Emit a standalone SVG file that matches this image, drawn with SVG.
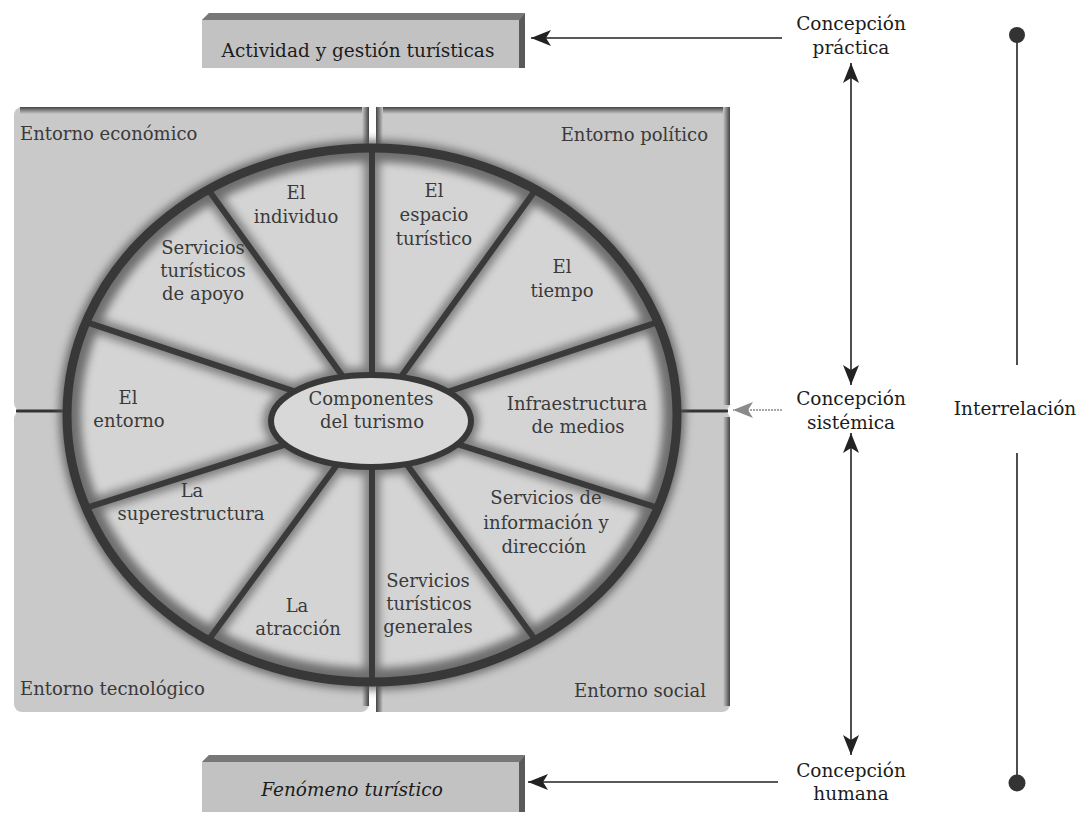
<svg xmlns="http://www.w3.org/2000/svg" width="1080" height="816" viewBox="0 0 1080 816">
<defs>
<style>
.lbl{font-family:"DejaVu Serif","Liberation Serif",serif;font-size:18.5px;fill:#1c1c1c;text-anchor:middle}
.sec{font-family:"DejaVu Serif","Liberation Serif",serif;font-size:18px;fill:#3a3a3a;text-anchor:middle}
.env{font-family:"DejaVu Serif","Liberation Serif",serif;font-size:18px;fill:#3a3a3a}
.panel{fill:#c9c9c9}
.boxface{fill:#c2c2c2}
.boxtop{fill:#777}
.boxside{fill:#5a5a5a}
.spk{stroke:#3a3a3a;stroke-width:6;stroke-linecap:round;fill:none}
.spks{stroke:#6a6a6a;stroke-width:16;fill:none}
.con{stroke:#222;stroke-width:1.6;fill:none}
</style>
<linearGradient id="gTop" x1="0" y1="0" x2="0" y2="1"><stop offset="0" stop-color="#444"/><stop offset="1" stop-color="#c9c9c9"/></linearGradient>
<linearGradient id="gRight" x1="0" y1="0" x2="1" y2="0"><stop offset="0" stop-color="#c9c9c9"/><stop offset="1" stop-color="#444"/></linearGradient>
<linearGradient id="gLeft" x1="0" y1="0" x2="1" y2="0"><stop offset="0" stop-color="#444"/><stop offset="1" stop-color="#c9c9c9"/></linearGradient>
<filter id="blur" x="-20%" y="-20%" width="140%" height="140%"><feGaussianBlur stdDeviation="4"/></filter>
<marker id="ah" viewBox="0 0 20 16" refX="20" refY="8" markerWidth="20" markerHeight="16" markerUnits="userSpaceOnUse" orient="auto-start-reverse"><path d="M20,8 L0,0 L5,8 L0,16 Z" fill="#222"/></marker>
<marker id="ahg" viewBox="0 0 20 16" refX="20" refY="8" markerWidth="20" markerHeight="16" markerUnits="userSpaceOnUse" orient="auto-start-reverse"><path d="M20,8 L0,0 L5,8 L0,16 Z" fill="#8a8a8a"/></marker>
</defs>
<rect width="1080" height="816" fill="#fff"/>

<!-- Top box -->
<g id="box-actividad">
<polygon class="boxface" points="209,13 525,13 525,68 202,68 202,20"/>
<polygon class="boxtop" points="209,13 525,13 519,20 202,20"/>
<polygon class="boxside" points="525,13 525,68 519,68 519,20"/>
<text class="lbl" x="358" y="57">Actividad y gestión turísticas</text>
</g>

<!-- Bottom box -->
<g id="box-fenomeno">
<polygon class="boxface" points="209,755 525,755 525,812 202,812 202,762"/>
<polygon class="boxtop" points="209,755 525,755 519,762 202,762"/>
<polygon class="boxside" points="525,755 525,812 519,812 519,762"/>
<text class="lbl" x="352" y="796" font-style="italic" font-size="16.5">Fenómeno turístico</text>
</g>

<!-- Panels -->
<g id="panel-economico">
<rect class="panel" x="14" y="107" width="355" height="304" rx="8"/>
<rect x="20" y="107" width="349" height="7" fill="url(#gTop)"/>
<rect x="362" y="107" width="7" height="304" fill="url(#gRight)"/>
<text class="env" x="20" y="140">Entorno económico</text>
</g>
<g id="panel-politico">
<rect class="panel" x="376" y="107" width="354" height="304" rx="8"/>
<rect x="376" y="107" width="348" height="7" fill="url(#gTop)"/>
<rect x="376" y="107" width="7" height="304" fill="url(#gLeft)"/>
<rect x="723" y="107" width="7" height="298" fill="url(#gRight)"/>
<text class="env" x="708" y="141" text-anchor="end">Entorno político</text>
</g>
<g id="panel-tecnologico">
<rect class="panel" x="14" y="411" width="355" height="301" rx="8"/>
<rect x="362" y="411" width="7" height="295" fill="url(#gRight)"/>
<text class="env" x="20" y="695">Entorno tecnológico</text>
</g>
<g id="panel-social">
<rect class="panel" x="376" y="411" width="354" height="301" rx="8"/>
<rect x="376" y="411" width="7" height="301" fill="url(#gLeft)"/>
<rect x="723" y="417" width="7" height="289" fill="url(#gRight)"/>
<text class="env" x="706" y="697" text-anchor="end">Entorno social</text>
</g>
<line x1="16" y1="411" x2="80" y2="411" stroke="#333" stroke-width="3"/>
<line x1="664" y1="411" x2="728" y2="411" stroke="#333" stroke-width="3"/>

<!-- Wheel -->
<g id="wheel">
<ellipse cx="372" cy="415" rx="304" ry="266" fill="#d4d4d4"/>
<g filter="url(#blur)" opacity="0.8">
<path class="spks" d="M372,417 L372,149 M372,417 L535.1,190.5 M372,417 L657,322.4 M372,417 L657,507.6 M372,417 L535.1,639.5 M372,417 L372,681 M372,417 L208.9,639.5 M372,417 L87,507.6 M372,417 L87,322.4 M372,417 L208.9,190.5"/>
<ellipse cx="372" cy="415" rx="302" ry="264" fill="none" stroke="#555" stroke-width="22"/>
<ellipse cx="371" cy="421" rx="100" ry="46" fill="none" stroke="#666" stroke-width="16"/>
</g>
<path class="spk" d="M372,417 L372,149 M372,417 L535.1,190.5 M372,417 L657,322.4 M372,417 L657,507.6 M372,417 L535.1,639.5 M372,417 L372,681 M372,417 L208.9,639.5 M372,417 L87,507.6 M372,417 L87,322.4 M372,417 L208.9,190.5"/>
<ellipse cx="372" cy="415" rx="305" ry="267" fill="none" stroke="#383838" stroke-width="9"/>
<ellipse cx="371" cy="421" rx="100" ry="46" fill="#d8d8d8" stroke="#383838" stroke-width="6"/>
</g>

<g id="sec-individuo"><text class="sec" x="296" y="199">El</text><text class="sec" x="296" y="223">individuo</text></g>
<g id="sec-espacio"><text class="sec" x="434" y="197">El</text><text class="sec" x="434" y="221">espacio</text><text class="sec" x="434" y="245">turístico</text></g>
<g id="sec-tiempo"><text class="sec" x="562" y="273">El</text><text class="sec" x="562" y="297">tiempo</text></g>
<g id="sec-apoyo"><text class="sec" x="203" y="254">Servicios</text><text class="sec" x="203" y="277">turísticos</text><text class="sec" x="203" y="300">de apoyo</text></g>
<g id="sec-entorno"><text class="sec" x="128" y="404">El</text><text class="sec" x="129" y="427">entorno</text></g>
<g id="sec-componentes"><text class="sec" x="371" y="405">Componentes</text><text class="sec" x="372" y="428">del turismo</text></g>
<g id="sec-infra"><text class="sec" x="577" y="410">Infraestructura</text><text class="sec" x="578" y="433">de medios</text></g>
<g id="sec-superestructura"><text class="sec" x="192" y="497">La</text><text class="sec" x="191" y="520">superestructura</text></g>
<g id="sec-atraccion"><text class="sec" x="297" y="612">La</text><text class="sec" x="298" y="635">atracción</text></g>
<g id="sec-generales"><text class="sec" x="428" y="587">Servicios</text><text class="sec" x="429" y="610">turísticos</text><text class="sec" x="428" y="633">generales</text></g>
<g id="sec-informacion"><text class="sec" x="546" y="504">Servicios de</text><text class="sec" x="546" y="529">información y</text><text class="sec" x="544" y="553">dirección</text></g>

<!-- Right labels -->
<g id="lbl-practica"><text class="lbl" x="851" y="30">Concepción</text><text class="lbl" x="851" y="54">práctica</text></g>
<g id="lbl-sistemica"><text class="lbl" x="851" y="405">Concepción</text><text class="lbl" x="851" y="429">sistémica</text></g>
<g id="lbl-humana"><text class="lbl" x="851" y="777">Concepción</text><text class="lbl" x="851" y="800">humana</text></g>
<g id="lbl-interrelacion"><text class="lbl" x="1015" y="415">Interrelación</text></g>

<!-- Connectors -->
<g id="connectors">
<line class="con" x1="782" y1="38" x2="531" y2="38" marker-end="url(#ah)"/>
<line x1="782" y1="410" x2="733" y2="410" stroke="#8a8a8a" stroke-width="1.6" stroke-dasharray="2 1" marker-end="url(#ahg)"/>
<line class="con" x1="778" y1="782" x2="528" y2="782" marker-end="url(#ah)"/>
<line class="con" x1="851" y1="63" x2="851" y2="385" marker-start="url(#ah)" marker-end="url(#ah)"/>
<line class="con" x1="851" y1="433" x2="851" y2="755" marker-start="url(#ah)" marker-end="url(#ah)"/>
<line class="con" x1="1017" y1="35" x2="1017" y2="365"/>
<line class="con" x1="1017" y1="453" x2="1017" y2="783"/>
<circle cx="1017" cy="35" r="8" fill="#333"/>
<circle cx="1017" cy="783" r="8.5" fill="#333"/>
</g>
</svg>
